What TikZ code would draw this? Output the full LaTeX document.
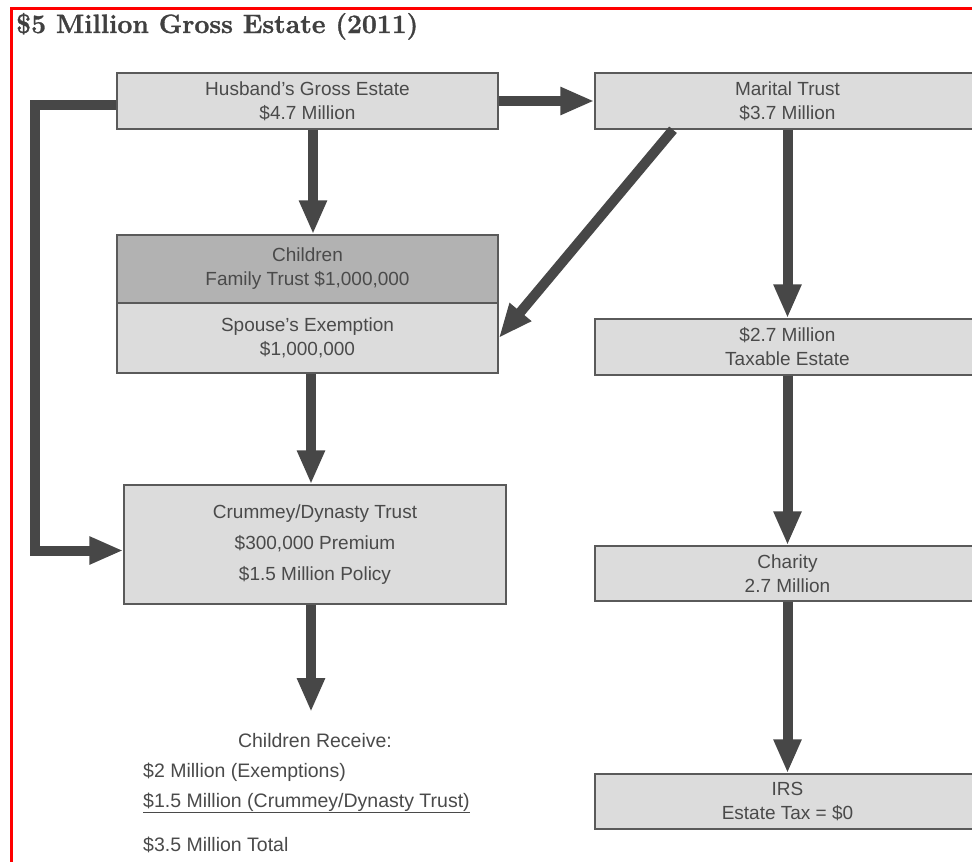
\documentclass[tikz,border=0pt]{standalone}
\usepackage{fontspec}
\setsansfont{Liberation Sans}
\newfontfamily\titlefont{Latin Modern Roman}[BoldFeatures={FakeBold=1.2}]
\usetikzlibrary{arrows.meta}
\definecolor{boxfill}{HTML}{DCDCDC}
\definecolor{boxdark}{HTML}{B2B2B2}
\definecolor{boxline}{HTML}{5A5A5A}
\definecolor{arrowc}{HTML}{474747}
\definecolor{txt}{HTML}{4A4A4A}
\definecolor{titlec}{HTML}{404040}
\tikzset{
  box/.style={draw=boxline, line width=1.5pt, fill=boxfill, inner sep=0pt,
    align=center, text=txt, font=\sffamily\fontsize{19}{24}\selectfont},
  flow/.style={draw=arrowc, line width=10pt, line join=miter,
    -{Triangle[length=34pt,width=26pt]}},
  plain/.style={inner sep=0pt, text=txt, font=\sffamily\fontsize{19.5}{24}\selectfont},
}
\begin{document}
\begin{tikzpicture}[x=1pt,y=-1pt]
\useasboundingbox (0,0) rectangle (972,862);
\clip (0,0) rectangle (972,862);
\fill[white] (0,0) rectangle (972,862);

% title
\node[anchor=base west, inner sep=0pt, text=titlec,
  font=\titlefont\bfseries\fontsize{26.5}{30}\selectfont] (title) at (16,33) {\$5 Million Gross Estate (2011)};

% boxes
\node[box, minimum width=381pt, minimum height=56pt] (husband) at (307.5,101)
  {Husband's Gross Estate\\\$4.7 Million};
\node[box, minimum width=385pt, minimum height=56pt] (marital) at (787.5,101)
  {Marital Trust\\\$3.7 Million};
\node[box, fill=boxdark, minimum width=381pt, minimum height=68pt] (children) at (307.5,269)
  {Children\\Family Trust \$1,000,000};
\node[box, minimum width=381pt, minimum height=70pt] (spouse) at (307.5,338)
  {Spouse's Exemption\\\$1,000,000};
\node[box, minimum width=382pt, minimum height=119pt,
  font=\sffamily\fontsize{19}{31}\selectfont] (crummey) at (315,544.5)
  {Crummey/Dynasty Trust\\\$300,000 Premium\\\$1.5 Million Policy};
\node[box, minimum width=385pt, minimum height=56pt] (taxable) at (787.5,347)
  {\$2.7 Million\\Taxable Estate};
\node[box, minimum width=385pt, minimum height=55pt] (charity) at (787.5,573.5)
  {Charity\\2.7 Million};
\node[box, minimum width=385pt, minimum height=55pt] (irs) at (787.5,801.5)
  {IRS\\Estate Tax = \$0};

% bottom text
\node[plain, anchor=base] (recvhead) at (315,747) {Children Receive:};
\node[plain, anchor=base west] (l1) at (143,777) {\$2 Million (Exemptions)};
\node[plain, anchor=base west] (l2) at (143,807) {\underline{\$1.5 Million (Crummey/Dynasty Trust)}};
\node[plain, anchor=base west] (l3) at (143,851) {\$3.5 Million Total};
\coordinate (recvtop) at (311,712);

% connectors
\draw[flow] (husband.east) -- (marital.west);
\draw[flow] ([xshift=5.5pt]husband.south) -- ([xshift=5.5pt]children.north);
\draw[flow] ([xshift=-114.5pt]marital.south) -- (spouse.east);
\draw[flow] (marital.south) -- (taxable.north);
\draw[flow] ([xshift=3.5pt]spouse.south) -- ([xshift=-4pt]crummey.north);
\draw[flow] ([yshift=-4pt]husband.west) -- ++(-81pt,0) |- ([yshift=-6pt]crummey.west);
\draw[flow] ([xshift=-4pt]crummey.south) -- (recvtop);
\draw[flow] (taxable.south) -- (charity.north);
\draw[flow] (charity.south) -- (irs.north);

% red frame
\draw[red, line width=3.5pt] (11.5,880) -- (11.5,8.5) -- (990,8.5);
\end{tikzpicture}
\end{document}
